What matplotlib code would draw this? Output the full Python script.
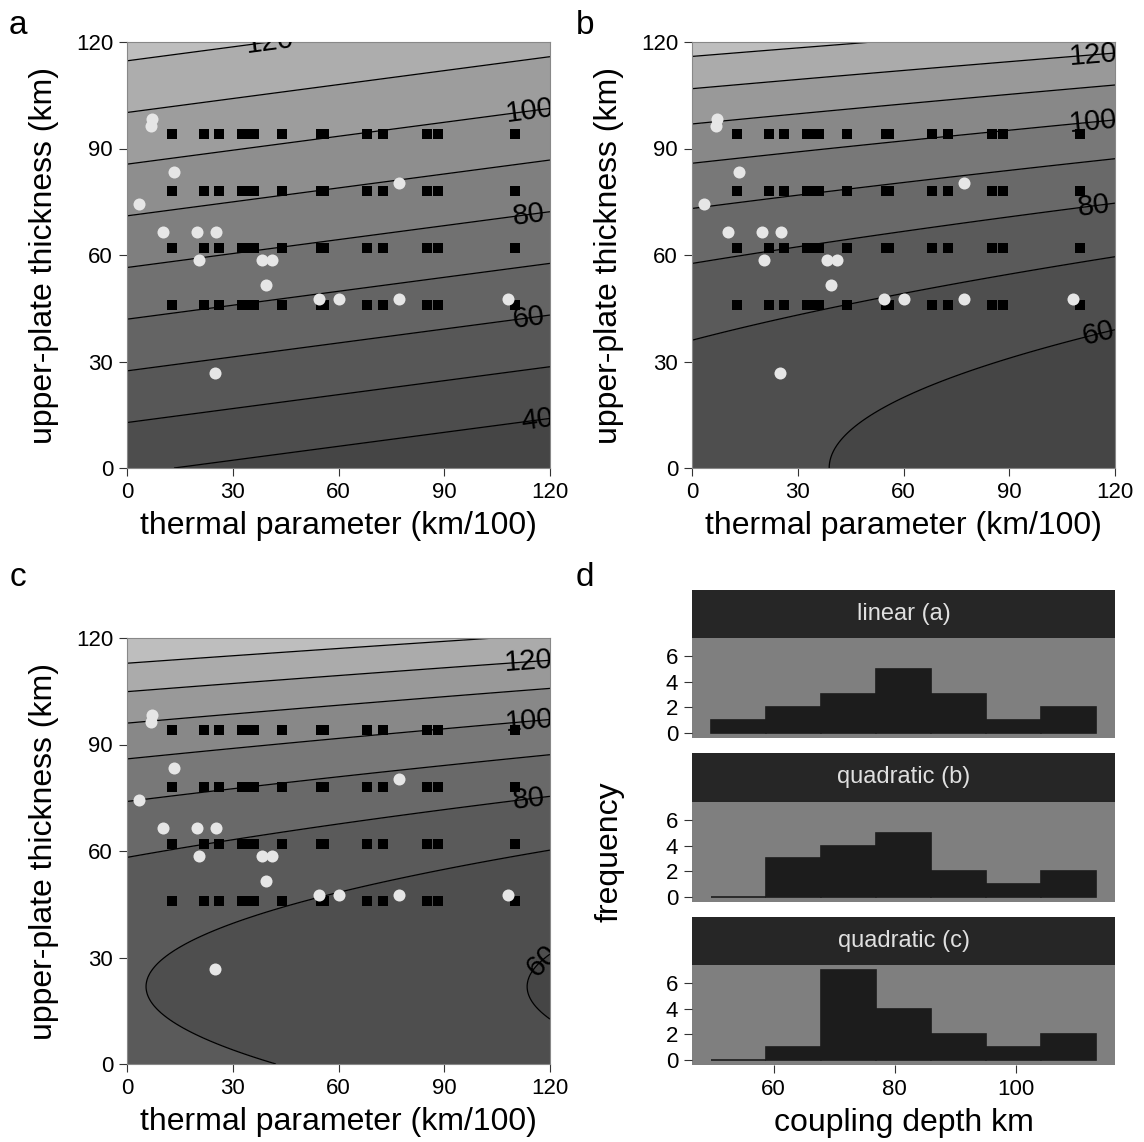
import numpy as np
import matplotlib.pyplot as plt

plt.rcParams['font.family'] = ['Liberation Sans', 'DejaVu Sans']

# observed subduction zones (white dots)
obs_x = [7.0, 6.7, 13.4, 3.3, 10.3, 19.9, 25.2, 20.3, 38.3, 41.0, 39.5,
         54.6, 60.0, 77.1, 108.0, 77.1, 25.0]
obs_y = [98.3, 96.4, 83.3, 74.3, 66.4, 66.4, 66.4, 58.6, 58.6, 58.6, 51.5,
         47.5, 47.5, 47.5, 47.7, 80.3, 26.7]

# model runs (black squares): every x with every y
grid_x = [12.9, 21.8, 26.1, 32.7, 34.4, 36.1, 44.0, 55.0, 56.0, 68.1, 72.7,
          85.1, 88.1, 110.1]
grid_y = [46, 62, 78, 94]

# fitted coupling depth surfaces: c0 + cx*x + cy*y + cyy*(y - y0)^2
fit_a = dict(c0=41.2, cx=-0.090, cy=0.687, cyy=0.0, y0=0.0)
fit_b = dict(c0=63.6, cx=-0.0925, cy=0.0, cyy=0.00494, y0=0.0)
fit_c = dict(c0=70.5, cx=-0.0925, cy=0.0, cyy=0.00717, y0=21.8)

# where the contour labels sit
labels_a = [(40.6, 119.6), (114.3, 100.4), (114.0, 71.3), (114.0, 42.6), (116.5, 13.5)]
labels_b = [(113.9, 115.9), (113.9, 97.3), (114.0, 73.2), (115.4, 37.5)]
labels_c = [(114.0, 112.9), (114.0, 96.2), (114.0, 74.2), (117.6, 29.3)]

# histogram of coupling depth
bin_edges = [49.7, 58.77, 67.84, 76.91, 85.98, 95.05, 104.12, 113.19]
counts_a = [1, 2, 3, 5, 3, 1, 2]
counts_b = [0, 3, 4, 5, 2, 1, 2]
counts_c = [0, 1, 7, 4, 2, 1, 2]
hist_names = ['linear (a)', 'quadratic (b)', 'quadratic (c)']

W, H = 1144, 1142
fig = plt.figure(figsize=(W / 100, H / 100), dpi=100)


def px_axes(left, top, right, bottom):
    return fig.add_axes([left / W, 1 - bottom / H, (right - left) / W, (bottom - top) / H])


def band_colors(n):
    t = np.linspace(0, 1, n)
    v = (69 + 121 * t ** 1.25) / 255
    return [(g, g, g) for g in v]


def contour_panel(ax, fit, label_pos):
    xx, yy = np.meshgrid(np.linspace(0, 120, 301), np.linspace(0, 120, 301))
    zz = fit['c0'] + fit['cx'] * xx + fit['cy'] * yy + fit['cyy'] * (yy - fit['y0']) ** 2
    lo = np.floor(zz.min() / 10) * 10
    hi = np.ceil(zz.max() / 10) * 10
    levels = np.arange(lo, hi + 1, 10)
    ax.contourf(xx, yy, zz, levels=levels, colors=band_colors(len(levels) - 1))
    cs = ax.contour(xx, yy, zz, levels=levels, colors='k', linewidths=0.9)
    texts = ax.clabel(cs, manual=label_pos, inline=False,
                      fontsize=21, colors='k', fmt='%d')
    for t in texts:
        t.set_clip_on(True)
        t.set_clip_path(ax.patch)

    gx, gy = np.meshgrid(grid_x, grid_y)
    ax.scatter(gx.ravel(), gy.ravel(), marker='s', s=52, c='black', linewidths=0, zorder=3)
    ax.scatter(obs_x, obs_y, marker='o', s=75, c='#e6e6e6', linewidths=0, zorder=4)

    ax.set_xlim(0, 120)
    ax.set_ylim(0, 120)
    ax.set_xticks([0, 30, 60, 90, 120])
    ax.set_yticks([0, 30, 60, 90, 120])
    ax.tick_params(labelsize=16, length=6, width=0.8, color='#333333', pad=4)
    for s in ax.spines.values():
        s.set_color('#888888')
        s.set_linewidth(0.8)
    ax.set_xlabel('thermal parameter (km/100)', fontsize=23, labelpad=6)
    ax.set_ylabel('upper-plate thickness (km)', fontsize=23, labelpad=12)


ax_a = px_axes(127, 42, 550, 468)
contour_panel(ax_a, fit_a, labels_a)
ax_b = px_axes(692, 42, 1115, 468)
contour_panel(ax_b, fit_b, labels_b)
ax_c = px_axes(127, 638, 550, 1064)
contour_panel(ax_c, fit_c, labels_c)

# histograms, one facet per model
facets = [(590, 638, 738), (753, 802, 902), (917, 965, 1065)]
all_counts = [counts_a, counts_b, counts_c]
widths = np.diff(bin_edges)
for i, (top, mid, bot) in enumerate(facets):
    strip = px_axes(692, top, 1115, mid)
    strip.set_facecolor('#262626')
    strip.set_xticks([])
    strip.set_yticks([])
    for s in strip.spines.values():
        s.set_visible(False)
    strip.text(0.5, 0.5, hist_names[i], transform=strip.transAxes, ha='center',
               va='center', color='#e0e0e0', fontsize=17)

    ax = px_axes(692, mid, 1115, bot)
    ax.set_facecolor('#7f7f7f')
    ax.bar(bin_edges[:-1], all_counts[i], width=widths, align='edge',
           color='#1c1c1c', edgecolor='#1c1c1c', linewidth=1.2)
    ax.set_xlim(46.5, 116.4)
    ax.set_ylim(-0.35, 7.35)
    ax.set_yticks([0, 2, 4, 6])
    ax.set_xticks([60, 80, 100])
    ax.tick_params(labelsize=16, length=6, width=0.8, color='#333333', pad=4)
    for s in ax.spines.values():
        s.set_visible(False)
    if i < 2:
        ax.tick_params(axis='x', bottom=False, labelbottom=False)
    else:
        ax.set_xlabel('coupling depth km', fontsize=23, labelpad=6)
    if i == 1:
        ax.set_ylabel('frequency', fontsize=23, labelpad=30)

for lab, x, y in [('a', 18, 25), ('b', 585, 25), ('c', 18, 578), ('d', 585, 578)]:
    fig.text(x / W, 1 - y / H, lab, fontsize=24, ha='center', va='center')

fig.savefig('out.png', dpi=100)
